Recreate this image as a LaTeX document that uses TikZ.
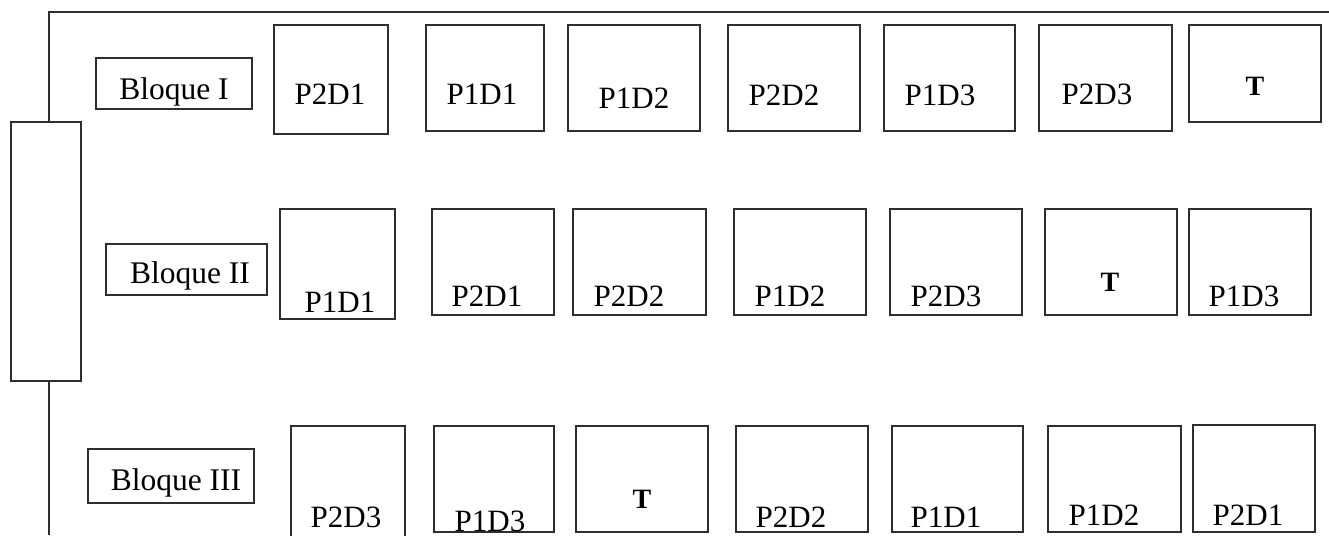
\documentclass[tikz,border=0pt]{standalone}
\usepackage{fontspec}
\setmainfont{Liberation Serif}
\usetikzlibrary{fit}

\tikzset{
  wire/.style={line width=1.2pt, draw=black!82},
  cell/.style={draw=black!82, line width=1.2pt, rectangle, inner sep=0pt, outer sep=0pt},
  blockname/.style={anchor=base, inner sep=0pt, font=\fontsize{31.5}{36}\selectfont},
  plotname/.style={anchor=base, inner sep=0pt, font=\fontsize{31}{35}\selectfont},
  check/.style={anchor=base, inner sep=0pt, font=\fontsize{28}{32}\selectfont\bfseries},
}

% #1 name, #2-#5 corners, #6-#7 text base point, #8 text style, #9 text
\newcommand\parcela[9]{%
  \node[cell, fit={(#2,#3) (#4,#5)}] (#1) {};
  \node[#8] (#1-t) at (#6,#7) {#9};
}

\begin{document}
\begin{tikzpicture}[x=1pt, y=-1pt]
\useasboundingbox (0,0) rectangle (1329,535);

% access road and gate on the left
\node[cell, fit={(11,122) (81,381)}] (gate) {};
\coordinate (corner) at (49,12);
\coordinate (east) at (1329,12);
\coordinate (south) at (49,535);
\draw[wire] (gate.north -| corner) -- (corner) -- (east);
\draw[wire] (gate.south -| corner) -- (south);

% block labels
\parcela{b1}{96}{58}{252}{109}{174}{99}{blockname}{Bloque I}
\parcela{b2}{106}{244}{267}{295}{190}{283}{blockname}{Bloque II}
\parcela{b3}{88}{449}{254}{503}{176}{490}{blockname}{Bloque III}

% Bloque I
\parcela{a1}{274}{25}{388}{134}{330}{104}{plotname}{P2D1}
\parcela{a2}{426}{25}{544}{131}{482}{104}{plotname}{P1D1}
\parcela{a3}{568}{25}{700}{131}{634}{108}{plotname}{P1D2}
\parcela{a4}{728}{25}{860}{131}{784}{105}{plotname}{P2D2}
\parcela{a5}{884}{25}{1015}{131}{940}{105}{plotname}{P1D3}
\parcela{a6}{1039}{25}{1172}{131}{1097}{104}{plotname}{P2D3}
\parcela{a7}{1189}{25}{1321}{122}{1255}{95}{check}{T}

% Bloque II
\parcela{m1}{280}{209}{395}{319}{340}{312}{plotname}{P1D1}
\parcela{m2}{432}{209}{554}{315}{487}{306}{plotname}{P2D1}
\parcela{m3}{573}{209}{706}{315}{629}{306}{plotname}{P2D2}
\parcela{m4}{734}{209}{866}{315}{790}{306}{plotname}{P1D2}
\parcela{m5}{890}{209}{1022}{315}{946}{306}{plotname}{P2D3}
\parcela{m6}{1045}{209}{1177}{315}{1110}{291}{check}{T}
\parcela{m7}{1189}{209}{1311}{315}{1244}{306}{plotname}{P1D3}

% Bloque III
\parcela{z1}{291}{426}{405}{545}{346}{527}{plotname}{P2D3}
\parcela{z2}{434}{426}{554}{532}{490}{531}{plotname}{P1D3}
\parcela{z3}{576}{426}{708}{532}{642}{508}{check}{T}
\parcela{z4}{736}{426}{868}{532}{791}{527}{plotname}{P2D2}
\parcela{z5}{892}{426}{1023}{532}{946}{527}{plotname}{P1D1}
\parcela{z6}{1048}{426}{1181}{532}{1104}{525}{plotname}{P1D2}
\parcela{z7}{1193}{425}{1315}{532}{1248}{525}{plotname}{P2D1}
\end{tikzpicture}
\end{document}
